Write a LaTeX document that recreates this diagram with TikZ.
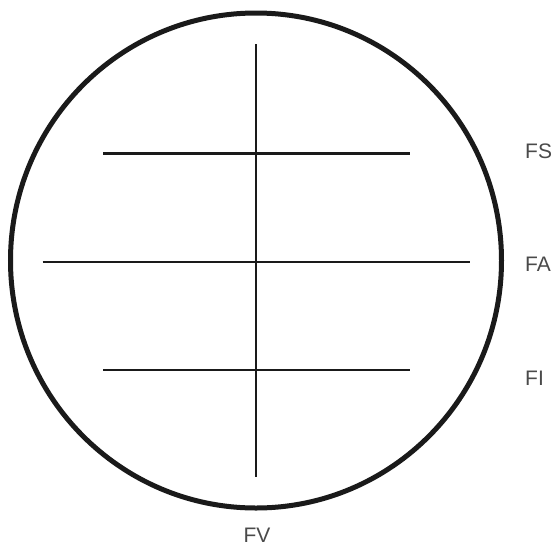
\documentclass[tikz,border=0pt]{standalone}
\usepackage{fontspec}
\setmainfont{Liberation Sans}
\definecolor{labelgray}{HTML}{4A4A4A}
\definecolor{linedark}{HTML}{1A1A1A}
\tikzset{
  rim/.style={draw=linedark, line width=5pt},
  hair/.style={draw=linedark, line width=2.6pt},
  lbl/.style={text=labelgray, font=\fontsize{21}{21}\selectfont, inner sep=0pt, anchor=west}
}
\begin{document}
\begin{tikzpicture}[x=1pt,y=-1pt]
\useasboundingbox (0,0) rectangle (555,547);
\draw[rim] (256,260.5) ellipse [x radius=245.5, y radius=247.5];
% vertical line
\coordinate (vt) at (256,44);
\coordinate (vb) at (256,477);
\draw[hair] (vt) -- (vb);
% horizontal lines
\coordinate (sl) at (103,153.5); \coordinate (sr) at (410,153.5);
\coordinate (al) at (42.5,262);  \coordinate (ar) at (470,262);
\coordinate (il) at (103,370);   \coordinate (ir) at (410,370);
\draw[hair] (sl) -- (sr);
\draw[hair] (al) -- (ar);
\draw[hair] (il) -- (ir);
% labels
\node[lbl] (fs) at (525,151) {FS};
\node[lbl] (fa) at (525,264) {FA};
\node[lbl] (fi) at (525,378) {FI};
\node[lbl, anchor=center] (fv) at (257,535) {FV};
\end{tikzpicture}
\end{document}
